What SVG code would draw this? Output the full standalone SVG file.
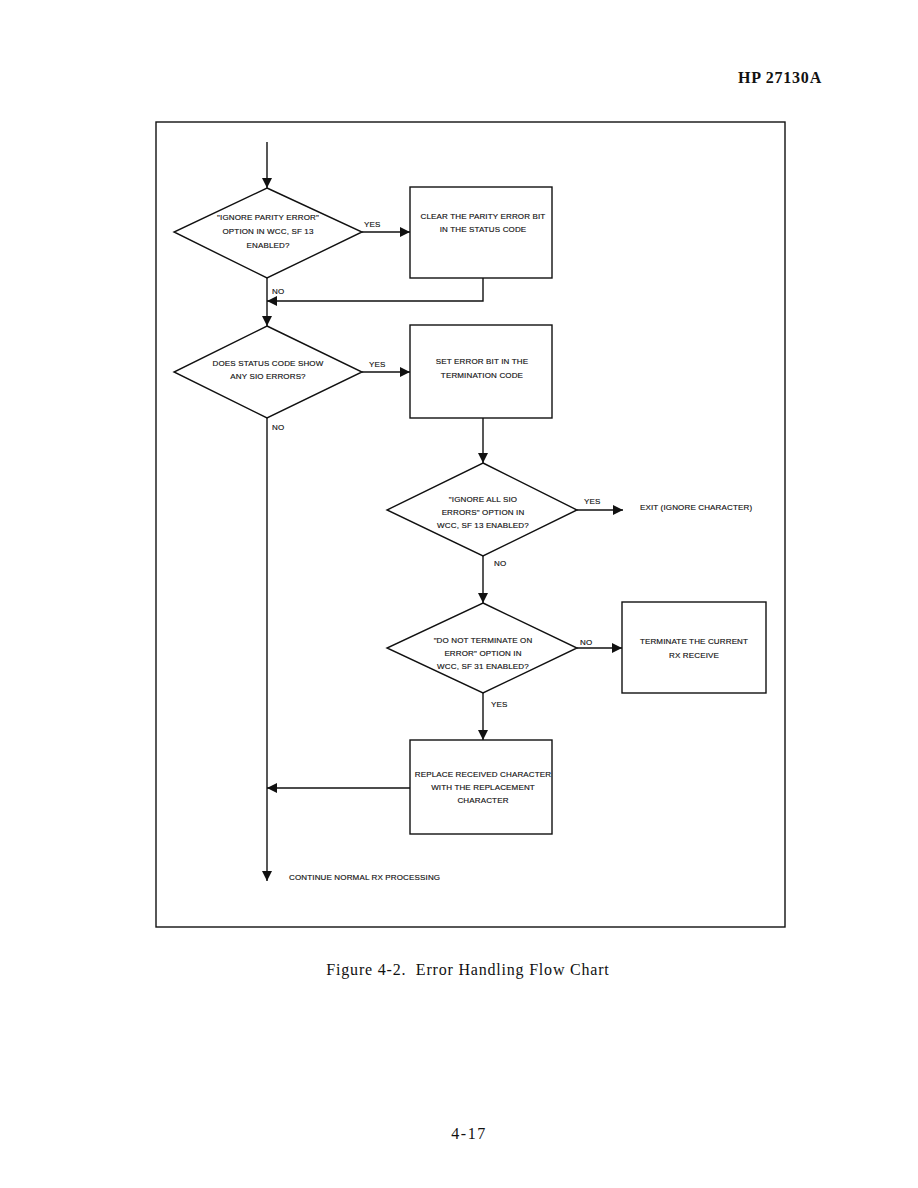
<svg xmlns="http://www.w3.org/2000/svg" width="918" height="1188" viewBox="0 0 918 1188">
<style>
.shape{fill:none;stroke:#111;stroke-width:1.4}
.ln{fill:none;stroke:#111;stroke-width:1.4}
.t{font-family:"Liberation Sans",Arial,sans-serif;font-size:8px;letter-spacing:0.15px;fill:#111;stroke:#111;stroke-width:0.15;text-anchor:middle}
.l{font-family:"Liberation Sans",Arial,sans-serif;font-size:8px;letter-spacing:0.15px;fill:#111;stroke:#111;stroke-width:0.15}
.serif{font-family:"Liberation Serif","Times New Roman",serif;fill:#111}
</style>
<defs>
<marker id="ah" viewBox="0 0 10 10" refX="10" refY="5" markerWidth="10" markerHeight="11" markerUnits="userSpaceOnUse" orient="auto">
<path d="M0,0 L10,5 L0,10 Z" fill="#111"/>
</marker>
</defs>
<rect width="918" height="1188" fill="#fff"/>
<text class="serif" x="822" y="83" font-size="16" font-weight="bold" letter-spacing="0.8" text-anchor="end">HP 27130A</text>
<rect x="156" y="122" width="629" height="805" class="shape"/>

<g id="connectors">
<line class="ln" x1="267" y1="142" x2="267" y2="188" marker-end="url(#ah)"/>
<line class="ln" x1="362" y1="232" x2="410" y2="232" marker-end="url(#ah)"/>
<polyline class="ln" points="483,278 483,301 267,301" marker-end="url(#ah)"/>
<line class="ln" x1="267" y1="278" x2="267" y2="326" marker-end="url(#ah)"/>
<line class="ln" x1="362" y1="372" x2="410" y2="372" marker-end="url(#ah)"/>
<line class="ln" x1="483" y1="418" x2="483" y2="463" marker-end="url(#ah)"/>
<line class="ln" x1="577" y1="510" x2="623" y2="510" marker-end="url(#ah)"/>
<line class="ln" x1="483" y1="556" x2="483" y2="603" marker-end="url(#ah)"/>
<line class="ln" x1="577" y1="648" x2="622" y2="648" marker-end="url(#ah)"/>
<line class="ln" x1="483" y1="693" x2="483" y2="740" marker-end="url(#ah)"/>
<line class="ln" x1="410" y1="788" x2="267" y2="788" marker-end="url(#ah)"/>
<line class="ln" x1="267" y1="418" x2="267" y2="881" marker-end="url(#ah)"/>
<text class="l" x="364" y="227">YES</text>
<text class="l" x="272" y="294">NO</text>
<text class="l" x="369" y="367">YES</text>
<text class="l" x="272" y="430">NO</text>
<text class="l" x="584" y="504">YES</text>
<text class="l" x="494" y="566">NO</text>
<text class="l" x="580" y="645">NO</text>
<text class="l" x="491" y="707">YES</text>
</g>

<g id="d1">
<polygon class="shape" points="267,188 362,232 267,278 174,232"/>
<text class="t" x="268" y="220">"IGNORE PARITY ERROR"</text>
<text class="t" x="268" y="234">OPTION IN WCC, SF 13</text>
<text class="t" x="268" y="248">ENABLED?</text>
</g>
<g id="b1">
<rect class="shape" x="410" y="187" width="142" height="91"/>
<text class="t" x="483" y="219">CLEAR THE PARITY ERROR BIT</text>
<text class="t" x="483" y="232">IN THE STATUS CODE</text>
</g>
<g id="d2">
<polygon class="shape" points="267,326 362,372 267,418 174,372"/>
<text class="t" x="268" y="366">DOES STATUS CODE SHOW</text>
<text class="t" x="268" y="379">ANY SIO ERRORS?</text>
</g>
<g id="b2">
<rect class="shape" x="410" y="325" width="142" height="93"/>
<text class="t" x="482" y="364">SET ERROR BIT IN THE</text>
<text class="t" x="482" y="378">TERMINATION CODE</text>
</g>
<g id="d3">
<polygon class="shape" points="483,463 577,510 483,556 387,510"/>
<text class="t" x="483" y="502">"IGNORE ALL SIO</text>
<text class="t" x="483" y="515">ERRORS" OPTION IN</text>
<text class="t" x="483" y="528">WCC, SF 13 ENABLED?</text>
</g>
<g id="exit">
<text class="l" x="640" y="510">EXIT (IGNORE CHARACTER)</text>
</g>
<g id="d4">
<polygon class="shape" points="483,603 577,648 483,693 387,648"/>
<text class="t" x="483" y="643">"DO NOT TERMINATE ON</text>
<text class="t" x="483" y="656">ERROR" OPTION IN</text>
<text class="t" x="483" y="669">WCC, SF 31 ENABLED?</text>
</g>
<g id="b3">
<rect class="shape" x="622" y="602" width="144" height="91"/>
<text class="t" x="694" y="644">TERMINATE THE CURRENT</text>
<text class="t" x="694" y="658">RX RECEIVE</text>
</g>
<g id="b4">
<rect class="shape" x="410" y="740" width="142" height="94"/>
<text class="t" x="483" y="777">REPLACE RECEIVED CHARACTER</text>
<text class="t" x="483" y="790">WITH THE REPLACEMENT</text>
<text class="t" x="483" y="803">CHARACTER</text>
</g>
<g id="cont">
<text class="l" x="289" y="880">CONTINUE NORMAL RX PROCESSING</text>
</g>

<text class="serif" x="468" y="975" font-size="16" letter-spacing="0.8" text-anchor="middle" xml:space="preserve">Figure 4-2.  Error Handling Flow Chart</text>
<text class="serif" x="469" y="1139" font-size="16" letter-spacing="1.5" text-anchor="middle">4-17</text>
</svg>
